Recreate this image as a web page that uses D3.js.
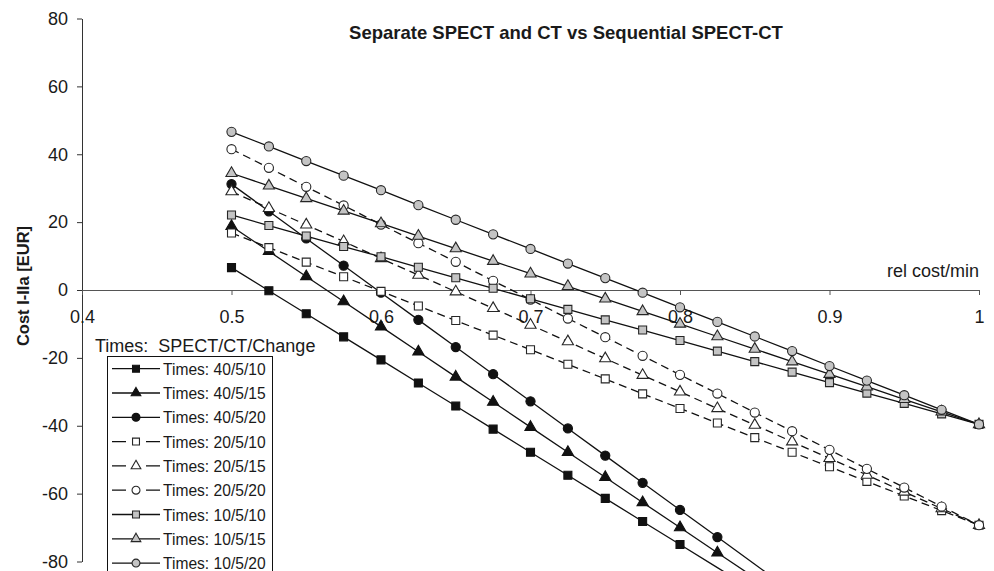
<!DOCTYPE html>
<html>
<head>
<meta charset="utf-8">
<script src="https://cdn.jsdelivr.net/npm/d3@7"></script>
<style>
  body { margin: 0; background: #fff; }
  svg { display: block; font-family: "Liberation Sans", Arial, sans-serif; }
</style>
</head>
<body>
<svg width="994" height="571"></svg>
<script>
// relative cost per minute (x)
var relCost = [0.5, 0.525, 0.55, 0.575, 0.6, 0.625, 0.65, 0.675, 0.7, 0.725, 0.75,
               0.775, 0.8, 0.825, 0.85, 0.875, 0.9, 0.925, 0.95, 0.975, 1.0];

// Cost I-IIa [EUR]
var t40_5_10 = [6.6, -0.2, -7.0, -13.8, -20.6, -27.4, -34.2, -41.0, -47.8, -54.6, -61.4, -68.2, -75.0, -81.8, -88.6];
var t40_5_15 = [18.8, 11.4, 4.0, -3.4, -10.8, -18.2, -25.6, -33.0, -40.4, -47.8, -55.2, -62.6, -70.0, -77.4, -84.8, -92.2];
var t40_5_20 = [31.2, 23.2, 15.2, 7.2, -0.8, -8.8, -16.8, -24.8, -32.8, -40.8, -48.8, -56.8, -64.8, -72.8, -80.8, -88.8];
var t20_5_10 = [16.8, 12.5, 8.2, 3.9, -0.4, -4.7, -9.0, -13.3, -17.6, -21.9, -26.2, -30.6, -34.9, -39.2, -43.5, -47.8, -52.1, -56.4, -60.7, -65.0, -69.3];
var t20_5_15 = [29.0, 24.1, 19.2, 14.3, 9.3, 4.4, -0.5, -5.4, -10.3, -15.2, -20.2, -25.1, -30.0, -34.9, -39.8, -44.7, -49.6, -54.5, -59.5, -64.4, -69.3];
var t20_5_20 = [41.5, 36.0, 30.4, 24.9, 19.3, 13.8, 8.3, 2.7, -2.8, -8.4, -13.9, -19.4, -25.0, -30.5, -36.1, -41.6, -47.1, -52.7, -58.2, -63.8, -69.3];
var t10_5_10 = [22.1, 19.0, 15.9, 12.8, 9.8, 6.7, 3.6, 0.5, -2.6, -5.7, -8.8, -11.8, -14.9, -18.0, -21.1, -24.2, -27.3, -30.4, -33.4, -36.5, -39.6];
var t10_5_15 = [34.4, 30.7, 27.0, 23.3, 19.6, 15.9, 12.2, 8.5, 4.8, 1.1, -2.6, -6.3, -10.0, -13.7, -17.4, -21.1, -24.8, -28.5, -32.2, -35.9, -39.6];
var t10_5_20 = [46.6, 42.3, 38.0, 33.7, 29.4, 25.0, 20.7, 16.4, 12.1, 7.8, 3.5, -0.8, -5.1, -9.4, -13.7, -18.0, -22.4, -26.7, -31.0, -35.3, -39.6];

var seriesNames = ["Times: 40/5/10", "Times: 40/5/15", "Times: 40/5/20",
                   "Times: 20/5/10", "Times: 20/5/15", "Times: 20/5/20",
                   "Times: 10/5/10", "Times: 10/5/15", "Times: 10/5/20"];
var seriesValues = [t40_5_10, t40_5_15, t40_5_20, t20_5_10, t20_5_15, t20_5_20, t10_5_10, t10_5_15, t10_5_20];

var xTicks = [0.4, 0.5, 0.6, 0.7, 0.8, 0.9, 1.0];
var xTickLabels = ["0.4", "0.5", "0.6", "0.7", "0.8", "0.9", "1"];
var yTicks = [-80, -60, -40, -20, 0, 20, 40, 60, 80];

// look of each series: marker shape, fill, dashed or not
var shapes = [d3.symbolSquare, d3.symbolTriangle, d3.symbolCircle];
var styleOf = function(i) {
    var group = Math.floor(i / 3);
    return {
        shape: shapes[i % 3],
        fill: group == 0 ? "#111" : (group == 1 ? "#fff" : "#c4c4c4"),
        stroke: group == 0 ? "#111" : "#262626",
        dash: group == 1 ? "8,5" : null
    };
};
var markerSize = function(shape) {
    if (shape === d3.symbolSquare) return 64;
    if (shape === d3.symbolTriangle) return 54;
    return 66;
};

var svg = d3.select("svg");

var x = d3.scaleLinear().domain([0.4, 1]).range([82, 979]);
var y = d3.scaleLinear().domain([-80, 80]).range([561.5, 18.5]);

// title
svg.append("text")
    .attr("x", 566).attr("y", 39)
    .attr("text-anchor", "middle")
    .style("font-size", "18.5px").style("font-weight", "bold")
    .attr("fill", "#1a1a1a")
    .text("Separate SPECT and CT vs Sequential SPECT-CT");

// y axis
var yAxis = svg.append("g")
    .attr("transform", "translate(" + x(0.4) + ",0)")
    .call(d3.axisLeft(y).tickValues(yTicks).tickSize(5).tickSizeOuter(0).tickPadding(9)
        .tickFormat(function(d) { return String(d); }));
yAxis.select(".domain").attr("stroke", "#333");
yAxis.selectAll(".tick line").attr("stroke", "#333");
yAxis.selectAll("text").style("font-size", "18px").attr("fill", "#1a1a1a");

svg.append("text")
    .attr("transform", "translate(29,286) rotate(-90)")
    .attr("text-anchor", "middle")
    .style("font-size", "16.5px").style("font-weight", "bold")
    .attr("fill", "#1a1a1a")
    .text("Cost I-IIa [EUR]");

// x axis on the zero line
var xAxis = svg.append("g")
    .attr("transform", "translate(0," + y(0) + ")")
    .call(d3.axisBottom(x).tickValues(xTicks).tickSize(5).tickSizeOuter(0).tickPadding(15)
        .tickFormat(function(d, i) { return xTickLabels[i]; }));
xAxis.select(".domain").attr("stroke", "#555");
xAxis.selectAll(".tick line").attr("stroke", "#555");
xAxis.selectAll("text").style("font-size", "18px").attr("fill", "#1a1a1a");

svg.append("text")
    .attr("x", 979).attr("y", 277)
    .attr("text-anchor", "end")
    .style("font-size", "18px")
    .attr("fill", "#1a1a1a")
    .text("rel cost/min");

// series
var line = d3.line()
    .x(function(d) { return x(d.x); })
    .y(function(d) { return y(d.v); });

var plot = svg.append("g");

seriesValues.forEach(function(vals, i) {
    var st = styleOf(i);
    var pts = vals.map(function(v, k) { return { x: relCost[k], v: v }; });

    plot.append("path")
        .datum(pts)
        .attr("d", line)
        .attr("fill", "none")
        .attr("stroke", "#111")
        .attr("stroke-width", 1.3)
        .attr("stroke-dasharray", st.dash);

    plot.append("g").selectAll("path")
        .data(pts.filter(function(p) { return p.v >= -80; }))
        .enter().append("path")
        .attr("transform", function(p) { return "translate(" + x(p.x) + "," + y(p.v) + ")"; })
        .attr("d", d3.symbol().type(st.shape).size(markerSize(st.shape)))
        .attr("fill", st.fill)
        .attr("stroke", st.stroke)
        .attr("stroke-width", 1.1);
});

// legend
svg.append("text")
    .attr("x", 95).attr("y", 352)
    .style("font-size", "18px")
    .attr("fill", "#1a1a1a")
    .attr("xml:space", "preserve")
    .text("Times:  SPECT/CT/Change");

var legend = svg.append("g");
legend.append("rect")
    .attr("x", 107.5).attr("y", 356.5)
    .attr("width", 165).attr("height", 240)
    .attr("fill", "#fff")
    .attr("stroke", "#111");

seriesNames.forEach(function(name, i) {
    var st = styleOf(i);
    var cy = 368.7 + i * 24.3;
    legend.append("line")
        .attr("x1", 112).attr("x2", 160)
        .attr("y1", cy).attr("y2", cy)
        .attr("stroke", "#111").attr("stroke-width", 1.3)
        .attr("stroke-dasharray", st.dash ? "14,20,14" : null);
    legend.append("path")
        .attr("transform", "translate(136," + cy + ")")
        .attr("d", d3.symbol().type(st.shape).size(markerSize(st.shape) * 0.75))
        .attr("fill", st.fill)
        .attr("stroke", st.stroke)
        .attr("stroke-width", 1.1);
    legend.append("text")
        .attr("x", 163).attr("y", cy + 6)
        .style("font-size", "15.6px")
        .attr("fill", "#1a1a1a")
        .text(name);
});
</script>
</body>
</html>
